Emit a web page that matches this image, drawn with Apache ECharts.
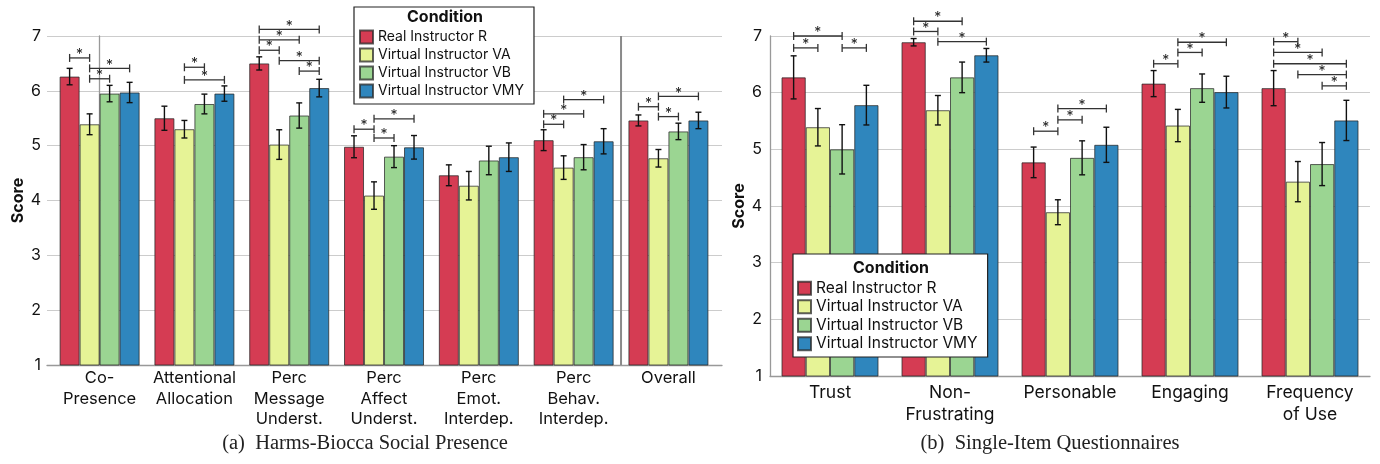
<!DOCTYPE html>
<html>
<head>
<meta charset="utf-8">
<script src="https://cdn.jsdelivr.net/npm/echarts@6/dist/echarts.min.js"></script>
<style>
html, body { margin: 0; padding: 0; background: #fff; }
#chart { width: 1380px; height: 464px; }
</style>
</head>
<body>
<div id="chart"></div>
<script>
// conditions shared by both panels
const conditions = ['Real Instructor R', 'Virtual Instructor VA', 'Virtual Instructor VB', 'Virtual Instructor VMY']
const colors = ['#d53c53', '#e6f396', '#9bd592', '#2f86bd']

// (a) Harms-Biocca Social Presence
const socialCats = ['Co-\nPresence', 'Attentional\nAllocation', 'Perc\nMessage\nUnderst.', 'Perc\nAffect\nUnderst.', 'Perc\nEmot.\nInterdep.', 'Perc\nBehav.\nInterdep.', 'Overall']
const socialR = [6.26, 5.50, 6.50, 4.98, 4.46, 5.10, 5.46]
const socialVA = [5.39, 5.30, 5.02, 4.09, 4.27, 4.60, 4.77]
const socialVB = [5.95, 5.76, 5.55, 4.80, 4.73, 4.79, 5.26]
const socialVMY = [5.97, 5.95, 6.05, 4.97, 4.79, 5.08, 5.46]
const socialErrR = [0.15, 0.22, 0.12, 0.20, 0.19, 0.19, 0.10]
const socialErrVA = [0.19, 0.16, 0.27, 0.25, 0.26, 0.215, 0.16]
const socialErrVB = [0.15, 0.18, 0.23, 0.20, 0.26, 0.23, 0.15]
const socialErrVMY = [0.185, 0.14, 0.16, 0.215, 0.26, 0.23, 0.15]
// [category, bracket height, from condition, to condition]
const socialSig = [
  [0, 6.60, 0, 1], [0, 6.41, 1, 3], [0, 6.22, 1, 2],
  [1, 6.43, 1, 2], [1, 6.20, 1, 3],
  [2, 7.12, 0, 3], [2, 6.93, 0, 2], [2, 6.74, 0, 1], [2, 6.55, 1, 3], [2, 6.36, 2, 3],
  [3, 5.49, 1, 3], [3, 5.30, 0, 1], [3, 5.14, 1, 2],
  [5, 5.84, 1, 3], [5, 5.58, 0, 2], [5, 5.39, 0, 1],
  [6, 5.90, 1, 3], [6, 5.71, 0, 1], [6, 5.53, 1, 2]
]
// the subscales are split from "Overall" between these two categories
const socialSplitAfter = 5

// (b) Single-Item Questionnaires
const itemCats = ['Trust', 'Non-\nFrustrating', 'Personable', 'Engaging', 'Frequency\nof Use']
const itemR = [6.27, 6.89, 4.77, 6.16, 6.08]
const itemVA = [5.39, 5.69, 3.89, 5.42, 4.43]
const itemVB = [5.00, 6.27, 4.85, 6.08, 4.74]
const itemVMY = [5.78, 6.66, 5.08, 6.01, 5.51]
const itemErrR = [0.38, 0.065, 0.27, 0.23, 0.31]
const itemErrVA = [0.33, 0.26, 0.22, 0.285, 0.355]
const itemErrVB = [0.435, 0.27, 0.30, 0.25, 0.38]
const itemErrVMY = [0.35, 0.12, 0.31, 0.28, 0.355]
const itemSig = [
  [0, 7.00, 0, 2], [0, 6.79, 0, 1], [0, 6.79, 2, 3],
  [1, 7.26, 0, 2], [1, 7.08, 0, 1], [1, 6.90, 1, 3],
  [2, 5.72, 1, 3], [2, 5.52, 1, 2], [2, 5.32, 0, 1],
  [3, 6.89, 1, 3], [3, 6.71, 1, 2], [3, 6.51, 0, 1],
  [4, 6.90, 0, 1], [4, 6.71, 0, 2], [4, 6.51, 0, 3], [4, 6.32, 1, 3], [4, 6.12, 2, 3]
]

const socialMeans = [socialR, socialVA, socialVB, socialVMY]
const socialErrs = [socialErrR, socialErrVA, socialErrVB, socialErrVMY]
const itemMeans = [itemR, itemVA, itemVB, itemVMY]
const itemErrs = [itemErrR, itemErrVA, itemErrVB, itemErrVMY]

const font = 'Inter'
const leftBarW = 20
const rightBarW = 24.25

function errRows(means, errs) {
  const rows = []
  means.forEach((arr, s) => {
    arr.forEach((v, i) => rows.push([i, v, s, errs[s][i]]))
  })
  return rows
}

function renderErr(barW) {
  return function(params, api) {
    const cat = api.value(0)
    const m = api.value(1)
    const e = api.value(3)
    const top = api.coord([cat, m + e])
    const bot = api.coord([cat, m - e])
    const x = top[0] + (api.value(2) - 1.5) * barW
    const style = { stroke: '#111', lineWidth: 1.4 }
    return {
      type: 'group',
      children: [
        { type: 'line', shape: { x1: x, y1: top[1], x2: x, y2: bot[1] }, style },
        { type: 'line', shape: { x1: x - 3, y1: top[1], x2: x + 3, y2: top[1] }, style },
        { type: 'line', shape: { x1: x - 3, y1: bot[1], x2: x + 3, y2: bot[1] }, style }
      ]
    }
  }
}

function renderSig(barW) {
  return function(params, api) {
    const p = api.coord([api.value(0), api.value(1)])
    const x1 = p[0] + (api.value(2) - 1.5) * barW
    const x2 = p[0] + (api.value(3) - 1.5) * barW
    const y = p[1]
    const style = { stroke: '#333', lineWidth: 1.3 }
    return {
      type: 'group',
      children: [
        { type: 'line', shape: { x1: x1, y1: y, x2: x2, y2: y }, style },
        { type: 'line', shape: { x1: x1, y1: y - 4, x2: x1, y2: y + 4 }, style },
        { type: 'line', shape: { x1: x2, y1: y - 4, x2: x2, y2: y + 4 }, style },
        { type: 'text', style: { text: '*', x: (x1 + x2) / 2, y: y - 3, align: 'center', verticalAlign: 'middle', fill: '#222', font: '14px Inter' } }
      ]
    }
  }
}

// vertical divider half-way between two categories, full axis height
function renderSplit(params, api) {
  const x = api.value(0) + 0.5
  const top = api.coord([x, 7])
  const bot = api.coord([x, 1])
  return {
    type: 'line',
    shape: { x1: top[0], y1: top[1], x2: bot[0], y2: bot[1] },
    style: { stroke: '#8a8a8a', lineWidth: 2 }
  }
}

const series = []
socialMeans.forEach((arr, s) => {
  series.push({
    name: conditions[s],
    type: 'bar',
    xAxisIndex: 0,
    yAxisIndex: 0,
    barWidth: leftBarW,
    barGap: '0%',
    itemStyle: { color: colors[s], borderColor: 'rgba(40,40,40,0.75)', borderWidth: 1 },
    data: arr.map((v, i) => [i, v])
  })
})
itemMeans.forEach((arr, s) => {
  series.push({
    name: conditions[s],
    type: 'bar',
    xAxisIndex: 1,
    yAxisIndex: 1,
    barWidth: rightBarW,
    barGap: '0%',
    itemStyle: { color: colors[s], borderColor: 'rgba(40,40,40,0.75)', borderWidth: 1 },
    data: arr
  })
})
series.push({
  type: 'custom', xAxisIndex: 0, yAxisIndex: 0, z: 1, clip: false, silent: true,
  renderItem: renderSplit, encode: { x: 0 },
  data: [[socialSplitAfter]]
})
series.push({
  type: 'custom', xAxisIndex: 0, yAxisIndex: 0, z: 3, clip: false,
  renderItem: renderErr(leftBarW), encode: { x: 0, y: 1 },
  data: errRows(socialMeans, socialErrs)
})
series.push({
  type: 'custom', xAxisIndex: 1, yAxisIndex: 1, z: 3, clip: false,
  renderItem: renderErr(rightBarW), encode: { x: 0, y: 1 },
  data: errRows(itemMeans, itemErrs)
})
series.push({
  type: 'custom', xAxisIndex: 0, yAxisIndex: 0, z: 3, clip: false,
  renderItem: renderSig(leftBarW), encode: { x: 0, y: 1 },
  data: socialSig
})
series.push({
  type: 'custom', xAxisIndex: 1, yAxisIndex: 1, z: 3, clip: false,
  renderItem: renderSig(rightBarW), encode: { x: 0, y: 1 },
  data: itemSig
})

function yAxisCfg(gridIndex, labelMargin, nameGap) {
  return {
    type: 'value',
    gridIndex: gridIndex,
    min: 1,
    max: 7,
    interval: 1,
    name: 'Score',
    nameLocation: 'middle',
    nameRotate: 90,
    nameGap: nameGap,
    nameTextStyle: { fontFamily: font, fontWeight: 'bold', fontSize: 16, color: '#111' },
    axisLine: { show: true, lineStyle: { color: '#999', width: 1.3 } },
    axisTick: { show: false },
    axisLabel: { fontFamily: font, fontSize: 16, color: '#111', margin: labelMargin },
    splitLine: { show: true, lineStyle: { color: '#cccccc', width: 1.2 } }
  }
}

const legendBase = {
  data: conditions,
  orient: 'vertical',
  icon: 'rect',
  itemWidth: 13,
  itemHeight: 13,
  itemGap: 2,
  borderColor: '#222',
  borderWidth: 1.2,
  borderRadius: 0,
  backgroundColor: '#fff',
  selectedMode: false,
  z: 10
}

const titleStyle = { fontFamily: font, fontWeight: 'bold', fontSize: 16, color: '#111' }
const captionStyle = { fontFamily: 'Liberation Serif', fontWeight: 'normal', fontSize: 20.5, color: '#222' }

const option = {
  animation: false,
  backgroundColor: '#fff',
  textStyle: { fontFamily: font },
  title: [
    { text: 'Condition', left: 445, top: 9, textAlign: 'center', padding: 0, z: 12, textStyle: titleStyle },
    { text: 'Condition', left: 891, top: 260, textAlign: 'center', padding: 0, z: 12, textStyle: titleStyle },
    { text: '(a)  Harms-Biocca Social Presence', left: 365, top: 433, textAlign: 'center', padding: 0, textStyle: captionStyle },
    { text: '(b)  Single-Item Questionnaires', left: 1050, top: 433, textAlign: 'center', padding: 0, textStyle: captionStyle }
  ],
  legend: [
    Object.assign({}, legendBase, {
      left: 354, top: 7, padding: [22, 10, 5, 5],
      textStyle: { fontFamily: font, fontSize: 14, color: '#111', lineHeight: 16 }
    }),
    Object.assign({}, legendBase, {
      left: 793, top: 254, padding: [26, 10, 5, 4],
      textStyle: { fontFamily: font, fontSize: 15.5, color: '#111', lineHeight: 16.5 }
    })
  ],
  grid: [
    { left: 47, top: 36, width: 675, height: 329 },
    { left: 770, top: 36, width: 600, height: 340 }
  ],
  xAxis: [
    {
      type: 'value',
      gridIndex: 0,
      min: -0.555,
      max: 6.565,
      axisLine: { show: true, lineStyle: { color: '#999', width: 1.3 } },
      axisTick: { show: false },
      splitLine: { show: false },
      axisLabel: {
        customValues: [0, 1, 2, 3, 4, 5, 6],
        formatter: (v) => socialCats[Math.round(v)],
        fontFamily: font,
        fontSize: 16.5,
        lineHeight: 20.5,
        color: '#111',
        margin: 3
      }
    },
    {
      type: 'category',
      gridIndex: 1,
      data: itemCats,
      axisLine: { show: true, lineStyle: { color: '#999', width: 1.3 } },
      axisTick: { show: false },
      axisLabel: { interval: 0, fontFamily: font, fontSize: 17.5, lineHeight: 22, color: '#111', margin: 6 }
    }
  ],
  yAxis: [
    yAxisCfg(0, 6, 21),
    yAxisCfg(1, 8, 23)
  ],
  series: series
}

const myChart = echarts.init(document.getElementById('chart'))
myChart.setOption(option)
window.onresize = myChart.resize
</script>
</body>
</html>
